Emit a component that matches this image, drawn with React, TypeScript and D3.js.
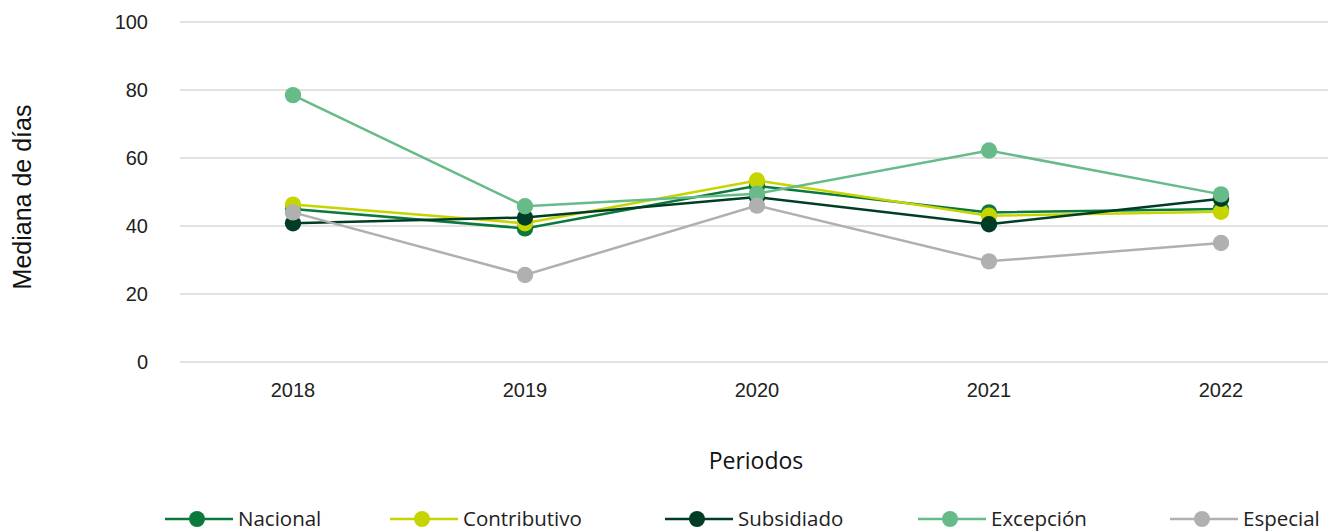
import React from "react";
import * as d3 from "d3";

// categories
const periodos = ["2018", "2019", "2020", "2021", "2022"];
const yTicks = [0, 20, 40, 60, 80, 100];

// series values (mediana de días)
const nacional = [45, 39.3, 51.8, 44, 45];
const contributivo = [46.3, 40.8, 53.4, 43, 44.2];
const subsidiado = [40.8, 42.5, 48.5, 40.5, 48];
const excepcion = [78.5, 45.8, 49.5, 62.2, 49.3];
const especial = [44, 25.6, 46, 29.6, 35];

const seriesNames = ["Nacional", "Contributivo", "Subsidiado", "Excepción", "Especial"];
const seriesValues = [nacional, contributivo, subsidiado, excepcion, especial];
const colours = ["#0a7a3c", "#c6d400", "#003d24", "#66bb88", "#b0b0b0"];

const W = 1328;
const H = 531;
const margin = { top: 22, right: 0, bottom: 169, left: 177 };

// legend entry starting positions
const legendX = [165, 390, 665, 918, 1170];

export default function App() {
  const x = d3
    .scalePoint<string>()
    .domain(periodos)
    .range([margin.left, 1337])
    .padding(0.5);

  const y = d3
    .scaleLinear()
    .domain([0, 100])
    .range([H - margin.bottom, margin.top]);

  const line = d3
    .line<number>()
    .x((d, i) => x(periodos[i]) as number)
    .y((d) => y(d));

  const tickFont = "'Liberation Sans', Arial, sans-serif";
  const titleFont = "'Open Sans', sans-serif";

  return (
    <svg
      width={W}
      height={H}
      style={{ position: "absolute", left: 0, top: 0, background: "#fff" }}
    >
      {/* gridlines */}
      {yTicks.map((t) => (
        <g key={t}>
          <line
            x1={180}
            x2={W}
            y1={y(t)}
            y2={y(t)}
            stroke="#d9d9d9"
            strokeWidth={1.5}
          />
          <text
            x={148}
            y={y(t)}
            dy="0.35em"
            textAnchor="end"
            fontFamily={tickFont}
            fontSize={20}
            fill="#222"
          >
            {t}
          </text>
        </g>
      ))}

      {/* x tick labels */}
      {periodos.map((p) => (
        <text
          key={p}
          x={x(p)}
          y={390}
          dy="0.35em"
          textAnchor="middle"
          fontFamily={tickFont}
          fontSize={20}
          fill="#222"
        >
          {p}
        </text>
      ))}

      {/* axis titles */}
      <text
        x={756}
        y={461}
        dy="0.35em"
        textAnchor="middle"
        fontFamily={titleFont}
        fontSize={23}
        fill="#111"
      >
        Periodos
      </text>
      <text
        transform={`translate(22,197) rotate(-90)`}
        textAnchor="middle"
        dy="0.35em"
        fontFamily={tickFont}
        fontSize={25}
        fill="#111"
      >
        Mediana de días
      </text>

      {/* series */}
      {seriesValues.map((vals, si) => (
        <g key={seriesNames[si]}>
          <path
            d={line(vals) || ""}
            fill="none"
            stroke={colours[si]}
            strokeWidth={2.5}
          />
          {vals.map((v, i) => (
            <circle
              key={i}
              cx={x(periodos[i])}
              cy={y(v)}
              r={8.2}
              fill={colours[si]}
            />
          ))}
        </g>
      ))}

      {/* legend */}
      {seriesNames.map((name, si) => (
        <g key={name} transform={`translate(${legendX[si]},519)`}>
          <line x1={0} x2={68} y1={0} y2={0} stroke={colours[si]} strokeWidth={2.5} />
          <circle cx={32} cy={0} r={8} fill={colours[si]} />
          <text
            x={73}
            y={0}
            dy="0.35em"
            fontFamily={titleFont}
            fontSize={20.5}
            fill="#222"
          >
            {name}
          </text>
        </g>
      ))}
    </svg>
  );
}
